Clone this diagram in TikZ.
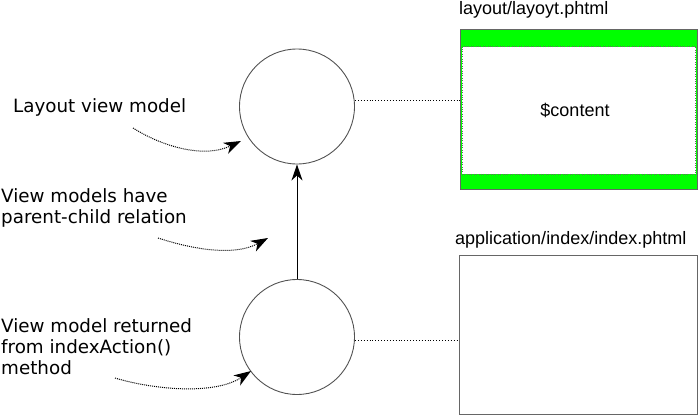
\documentclass[tikz,border=0pt]{standalone}
\usepackage{fontspec}
\setmainfont{Liberation Sans}
\newfontfamily\handfont{DejaVu Sans}
\usetikzlibrary{arrows.meta}
\definecolor{grn}{HTML}{00FF00}
\definecolor{edge}{HTML}{666666}
\tikzset{
  vm/.style={circle, draw=edge!80!black, line width=0.9pt, minimum size=115pt, inner sep=0pt},
  pagebox/.style={draw=edge, line width=1.4pt, inner sep=0pt},
  hand/.style={font=\handfont\fontsize{18.3}{21}\selectfont, align=left, inner sep=0pt, anchor=west},
  fname/.style={font=\fontsize{18}{20}\selectfont, inner sep=0pt, anchor=base west},
  link/.style={dotted, line width=0.9pt},
  note/.style={densely dotted, line width=1pt, -{Stealth[length=17pt,width=12pt,inset=5pt]}},
}
\begin{document}
\begin{tikzpicture}[x=1pt,y=-1pt]
\useasboundingbox (0,0) rectangle (698,415);
% circles
\node[vm] (top) at (297,106.5) {};
\node[vm] (bot) at (297,337) {};
\draw[line width=1pt, -{Stealth[length=16pt,width=11pt,inset=5pt]}] (bot.north) -- (top.south);
% top box
\fill[grn] (460,28.5) rectangle (697,188.5);
\fill[white] (462,46.5) rectangle (695.5,174);
\draw[dotted, edge] (462,46.5) rectangle (695.5,174);
\node[pagebox, minimum width=237pt, minimum height=160pt, anchor=north west] (layout) at (460,28.5) {};
\node[font=\fontsize{18}{20}\selectfont, inner sep=0pt] (content) at (575,110) {\$content};
\node[fname] (layoutlbl) at (459,14) {layout/layoyt.phtml};
% bottom box
\node[pagebox, minimum width=238pt, minimum height=159pt, anchor=north west] (index) at (459,254.5) {};
\node[fname] (indexlbl) at (455,244) {application/index/index.phtml};
% dotted links
\coordinate (t1) at (355,100);
\coordinate (t2) at (460,100);
\draw[link] (t1) -- (layout.west |- t2);
\coordinate (b1) at (355,340);
\coordinate (b2) at (459,340);
\draw[link] (b1) -- (b2);
% notes
\node[hand] (n1) at (13,107) {Layout view model};
\node[hand] (n2) at (1,208) {View models have\\parent-child relation};
\node[hand] (n3) at (1,347) {View model returned\\from indexAction()\\method};
\coordinate (s1) at (133,128);
\coordinate (e1) at (241,141);
\draw[note] (s1) .. controls (165,148) and (205,158) .. (e1);
\coordinate (s2) at (158,238);
\coordinate (e2) at (268,238);
\draw[note] (s2) .. controls (195,250) and (235,256) .. (e2);
\coordinate (s3) at (115,378);
\coordinate (e3) at (251,371);
\draw[note] (s3) .. controls (155,390) and (215,395) .. (e3);
\end{tikzpicture}
\end{document}
